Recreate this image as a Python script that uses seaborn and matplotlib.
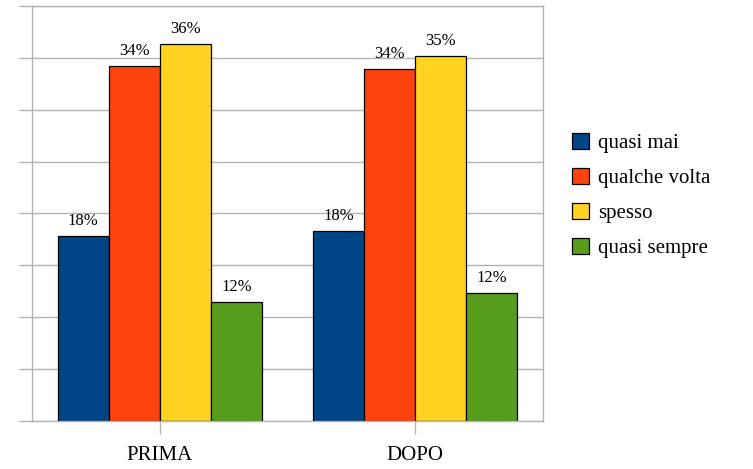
import matplotlib
matplotlib.use("Agg")
import matplotlib.pyplot as plt
import pandas as pd
import seaborn as sns

sns.set_theme(style="white")
plt.rcParams['font.family'] = ['Liberation Serif', 'DejaVu Serif']

# data (bar heights in %, labels as printed)
periods = ['PRIMA', 'DOPO']
answers = ['quasi mai', 'qualche volta', 'spesso', 'quasi sempre']
prima = [17.8, 34.2, 36.3, 11.5]
dopo = [18.3, 33.9, 35.2, 12.3]
prima_labels = ['18%', '34%', '36%', '12%']
dopo_labels = ['18%', '34%', '35%', '12%']
colors = ['#004586', '#ff420e', '#ffd320', '#579d1c']

df = pd.DataFrame({
    'periodo': [p for p in periods for _ in answers],
    'risposta': answers * 2,
    'valore': prima + dopo,
})

fig = plt.figure(figsize=(7.53, 4.69), dpi=100)
ax = fig.add_axes([32 / 753, 48 / 469, 511 / 753, 415 / 469])

sns.barplot(data=df, x='periodo', y='valore', hue='risposta', hue_order=answers,
            order=periods, palette=colors, width=0.8, gap=0, edgecolor='black',
            linewidth=0.9, saturation=1, errorbar=None, ax=ax, legend=True)

# value labels, one container per answer
for i, cont in enumerate(ax.containers):
    ax.bar_label(cont, labels=[prima_labels[i], dopo_labels[i]], padding=5,
                 fontsize=12, color='black')

ax.set_ylim(0, 40)
ax.set_xlim(-0.5, 1.5)
ax.set_yticks(range(0, 41, 5))
ax.set_yticklabels([])
ax.yaxis.grid(True, color='#b3b3b3', linewidth=1)
ax.set_axisbelow(True)
ax.set_xlabel('')
ax.set_ylabel('')
ax.tick_params(axis='y', length=9.5, width=1, color='#b3b3b3', direction='out', left=True)
ax.tick_params(axis='x', length=9, width=1, color='#b3b3b3', direction='out', bottom=True,
               labelsize=15, labelcolor='black', pad=9)
for s in ax.spines.values():
    s.set_color('#b3b3b3')
    s.set_linewidth(1)

handles, labels = ax.get_legend_handles_labels()
ax.legend_.remove()
leg = fig.legend(handles, labels, loc='center left', bbox_to_anchor=(572 / 753, 0.583),
                 frameon=False, fontsize=15, handlelength=0.82, handleheight=0.82,
                 handletextpad=0.45, labelspacing=0.7, borderpad=0, borderaxespad=0)
for t in leg.get_texts():
    t.set_color('black')

fig.savefig('out.png', dpi=100)
